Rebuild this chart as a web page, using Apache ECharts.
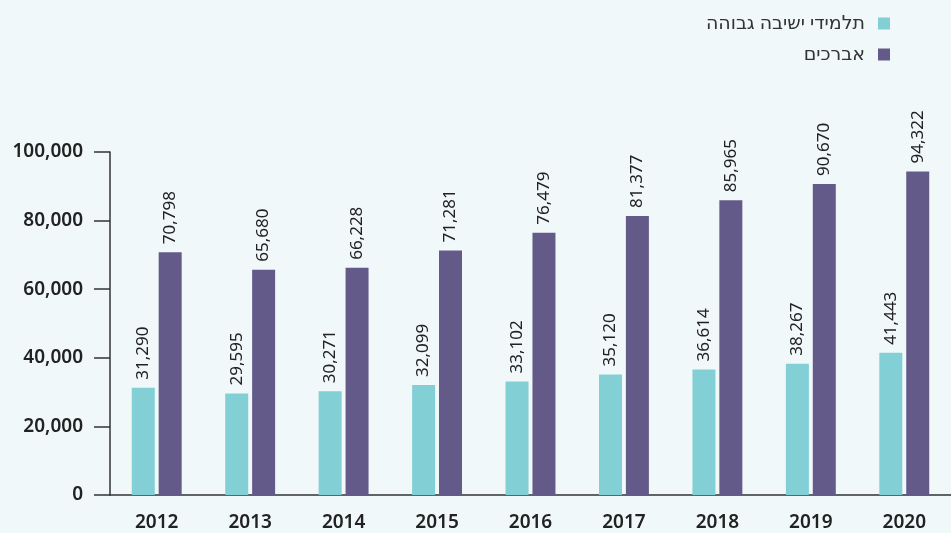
<!DOCTYPE html>
<html>
<head>
<meta charset="utf-8">
<script src="https://cdn.jsdelivr.net/npm/echarts@6/dist/echarts.min.js"></script>
<style>
  html, body { margin: 0; padding: 0; background: #f1f8fa; }
  #chart { width: 951px; height: 533px; }
</style>
</head>
<body>
<div id="chart"></div>
<script>
const years = ['2012', '2013', '2014', '2015', '2016', '2017', '2018', '2019', '2020']
const yeshivaStudents = [31290, 29595, 30271, 32099, 33102, 35120, 36614, 38267, 41443]
const avrechim = [70798, 65680, 66228, 71281, 76479, 81377, 85965, 90670, 94322]
const seriesNames = ['תלמידי ישיבה גבוהה', 'אברכים']

const font = '"Noto Sans", "DejaVu Sans", sans-serif'
const fmt = (v) => v.toLocaleString('en-US')

const valueLabel = {
  show: true,
  position: 'top',
  rotate: 90,
  align: 'left',
  verticalAlign: 'middle',
  distance: 8,
  color: '#222',
  fontSize: 17,
  fontFamily: font,
  formatter: (p) => fmt(p.value)
}

const option = {
  backgroundColor: '#f1f8fa',
  animation: false,
  legend: {
    orient: 'vertical',
    right: 56,
    top: 9,
    align: 'right',
    icon: 'rect',
    itemWidth: 12,
    itemHeight: 12,
    itemGap: 12,
    textStyle: { color: '#333', fontSize: 19, fontFamily: font, padding: [0, 8, 0, 0] },
    data: seriesNames
  },
  grid: { left: 110, right: 0, top: 152, bottom: 38, containLabel: false },
  xAxis: {
    type: 'category',
    data: years,
    axisLine: { lineStyle: { color: '#333', width: 1.5 } },
    axisTick: { inside: true, length: 16, lineStyle: { color: '#333', width: 1.5 } },
    axisLabel: { color: '#222', fontSize: 19, fontWeight: 600, fontFamily: font, margin: 18 }
  },
  yAxis: {
    type: 'value',
    min: 0,
    max: 100000,
    interval: 20000,
    splitLine: { show: false },
    axisLine: { show: true, lineStyle: { color: '#333', width: 1.5 } },
    axisTick: { show: true, length: 16, lineStyle: { color: '#333', width: 1.5 } },
    axisLabel: { color: '#222', fontSize: 19, fontWeight: 600, fontFamily: font, margin: 27, formatter: fmt }
  },
  series: [
    {
      name: seriesNames[0],
      type: 'bar',
      data: yeshivaStudents,
      barWidth: 23,
      barGap: '17%',
      itemStyle: { color: '#82cfd5' },
      label: valueLabel
    },
    {
      name: seriesNames[1],
      type: 'bar',
      data: avrechim,
      barWidth: 23,
      barGap: '17%',
      itemStyle: { color: '#635a8a' },
      label: valueLabel
    }
  ]
}

const myChart = echarts.init(document.getElementById('chart'))
myChart.setOption(option)
</script>
</body>
</html>
